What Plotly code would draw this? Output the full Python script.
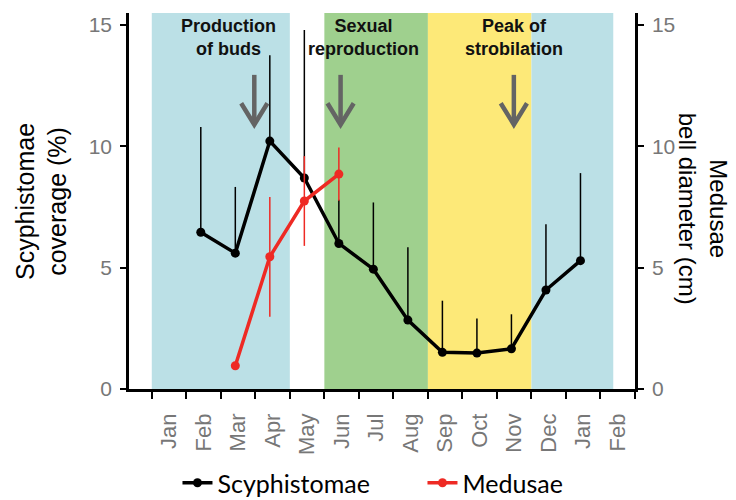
import plotly.graph_objects as go

# month labels along the x axis (boundaries are integers, labels sit mid-month)
months = ["Jan", "Feb", "Mar", "Apr", "May", "Jun", "Jul", "Aug", "Sep", "Oct", "Nov", "Dec", "Jan", "Feb"]

# scyphistomae coverage (%) - month index (0 = first Jan), mean, upper error
scy_month = [1, 2, 3, 4, 5, 6, 7, 8, 9, 10, 11, 12]
scy_mean = [6.46, 5.6, 10.22, 8.7, 6.0, 4.94, 2.84, 1.51, 1.48, 1.66, 4.08, 5.29]
scy_err = [4.34, 2.73, 3.54, 6.1, 1.8, 2.75, 3.0, 2.13, 1.43, 1.42, 2.71, 3.61]

# medusae bell diameter (cm)
med_month = [2, 3, 4, 5]
med_mean = [0.96, 5.45, 7.75, 8.86]
med_err = [0.0, 2.47, 1.85, 1.1]

# seasonal bands (start, end, colour) and phase notes
bands = [(0, 4, "#bbe0e6"), (5, 8, "#9fd08e"), (8, 11, "#fde978"), (11, 13.37, "#bbe0e6")]
notes = ["<b>Production<br>of buds</b>", "<b>Sexual<br>reproduction</b>", "<b>Peak of<br>strobilation</b>"]
note_x = [2.22, 6.14, 10.5]
arrow_x = [2.97, 5.47, 10.49]

day_off = 0.42  # points sit a bit before mid-month
scy_x = [m + day_off for m in scy_month]
med_x = [m + day_off for m in med_month]

AX = "Liberation Sans, Arial, sans-serif"
GREY = "#777777"

fig = go.Figure()
fig.add_trace(go.Scatter(
    x=scy_x, y=scy_mean, name="Scyphistomae", mode="lines+markers",
    line=dict(color="black", width=3.5), marker=dict(color="black", size=9),
    error_y=dict(type="data", symmetric=False, array=scy_err, arrayminus=[0] * len(scy_err),
                 color="black", thickness=1.5, width=0),
))
fig.add_trace(go.Scatter(
    x=med_x, y=med_mean, name="Medusae", mode="lines+markers", yaxis="y2",
    line=dict(color="#ee2a24", width=3.5), marker=dict(color="#ee2a24", size=9),
    error_y=dict(type="data", array=med_err, color="#ee2a24", thickness=1.5, width=0),
))

for x0, x1, c in bands:
    fig.add_shape(type="rect", xref="x", yref="paper", x0=x0, x1=x1, y0=0, y1=1,
                  fillcolor=c, line_width=0, layer="below")

for ax in arrow_x:
    fig.add_shape(type="line", xref="x", yref="y", x0=ax, x1=ax, y0=12.95, y1=11.0,
                  line=dict(color="#646464", width=4.5))
    fig.add_shape(type="path", xref="x", yref="y",
                  path=f"M {ax - 0.38},11.78 L {ax},10.9 L {ax + 0.38},11.78",
                  line=dict(color="#646464", width=4.5))

for t, x in zip(notes, note_x):
    fig.add_annotation(x=x, y=0.934, xref="x", yref="paper", text=t, showarrow=False,
                       font=dict(family=AX, size=18, color="#111111"), yanchor="middle")

fig.add_annotation(x=-0.174, y=0.5, xref="paper", yref="paper", text="Scyphistomae<br>coverage (%)",
                   textangle=-90, showarrow=False, xanchor="center", yanchor="middle",
                   font=dict(family=AX, size=25, color="black"))
fig.add_annotation(x=1.136, y=0.48, xref="paper", yref="paper", text="Medusae<br>bell diameter (cm)",
                   textangle=90, showarrow=False, xanchor="center", yanchor="middle",
                   font=dict(family=AX, size=24, color="black"))

yax = dict(range=[0, 15.5], tickvals=[0, 5, 10, 15], ticks="outside", ticklen=6, tickwidth=2,
           tickcolor="black", showline=True, linewidth=2.5, linecolor="black", showgrid=False,
           zeroline=False, tickfont=dict(family=AX, size=21, color=GREY), ticklabelstandoff=4,
           automargin=False)

# the page body adds an 8px offset, so the figure is 8px smaller and margins shifted
fig.update_layout(
    width=728, height=492, plot_bgcolor="white", paper_bgcolor="white",
    margin=dict(l=121, r=101, t=5, b=111, autoexpand=False),
    xaxis=dict(range=[-0.66, 14], tickvals=[m + 0.5 for m in range(len(months))], ticktext=months,
               tickangle=-90, ticks="", ticklabelstandoff=13, showline=True, linewidth=2.5,
               linecolor="black", showgrid=False, zeroline=False, automargin=False,
               tickfont=dict(family=AX, size=22, color=GREY),
               minor=dict(tickmode="array", tickvals=list(range(len(months) + 1)), ticks="outside",
                          ticklen=7, tickwidth=2, tickcolor="black", showgrid=False)),
    yaxis=yax,
    yaxis2=dict(yax, overlaying="y", side="right"),
    legend=dict(orientation="h", x=0.58, xanchor="center", y=-0.25, yanchor="middle",
                entrywidth=200, font=dict(family="Lato, sans-serif", size=25, color="black")),
    showlegend=True,
)

fig.write_html("out.html")
